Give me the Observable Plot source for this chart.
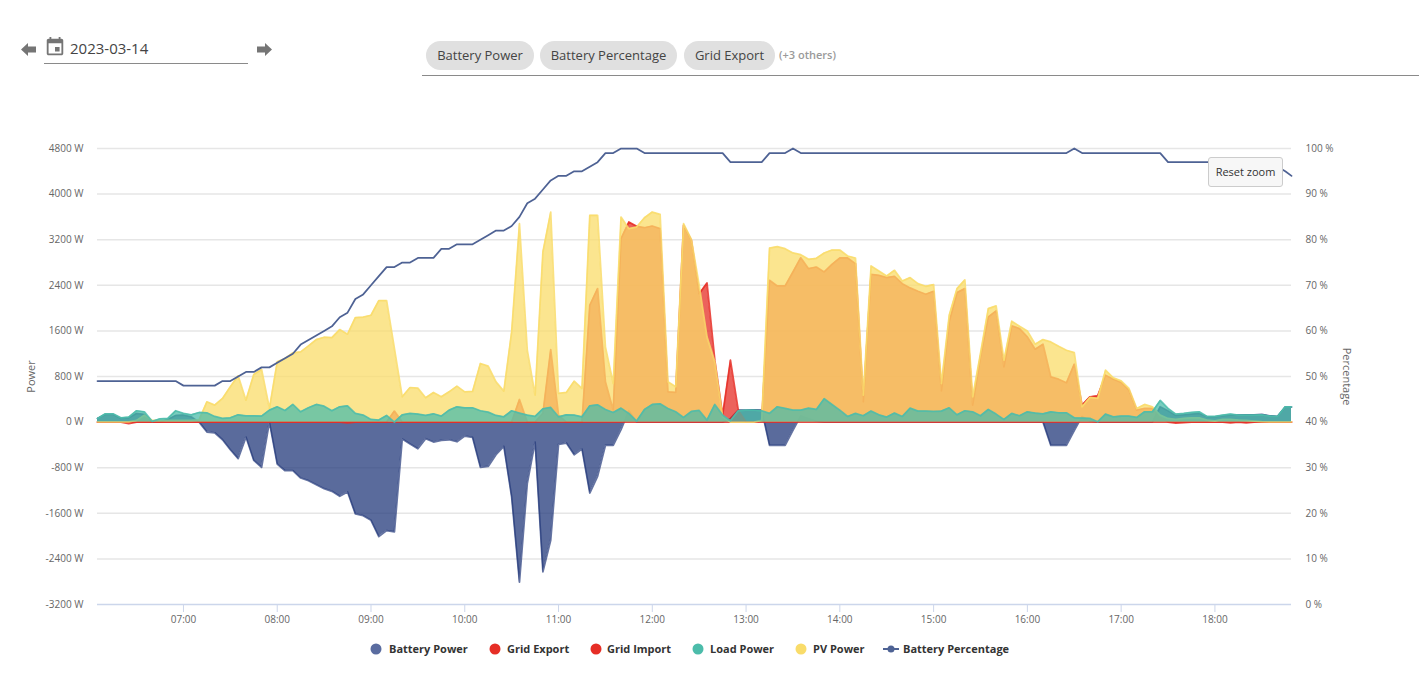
<!DOCTYPE html>
<html>
<head>
<meta charset="utf-8">
<script src="https://cdn.jsdelivr.net/npm/d3@7"></script>
<script src="https://cdn.jsdelivr.net/npm/@observablehq/plot@0.6"></script>
<style>
  html, body { margin: 0; padding: 0; background: #fff; overflow: hidden; font-family: "Open Sans", sans-serif; }
  #chart { position: absolute; left: 0; top: 0; }
  #chart svg { display: block; background: transparent; }
  .abs { position: absolute; }
  .date { left: 70px; top: 37px; font-size: 15px; color: #444; line-height: 22px; }
  .uline { height: 1px; background: #8a8a8a; }
  .chip { top: 41px; height: 29px; line-height: 29px; background: #e0e0e0; border-radius: 15px; font-size: 13px; color: #444; text-align: center; }
  .others { left: 779px; top: 47px; font-size: 11px; font-weight: 600; color: #9a9a9a; line-height: 16px; }
  .reset { left: 1208px; top: 157px; width: 73px; height: 28px; line-height: 28px; text-align: center; background: #f7f7f7; border: 1px solid #cccccc; border-radius: 3px; font-size: 11px; color: #333; }
  #legend { position: absolute; top: 641px; left: 0; height: 16px; }
  .lg { position: absolute; top: 0; font-size: 11px; font-weight: 700; color: #333; line-height: 16px; white-space: nowrap; }
  .sw { position: absolute; top: 2px; }
</style>
</head>
<body>
<div id="chart"></div>

<svg class="abs" style="left:21px;top:43px" width="15" height="13" viewBox="0 0 15 13"><path d="M0 6.5L7 0v3.6h8v5.8H7V13z" fill="#757575"/></svg>
<svg class="abs" style="left:257px;top:43px" width="15" height="13" viewBox="0 0 15 13"><path d="M15 6.5L8 0v3.6H0v5.8h8V13z" fill="#757575"/></svg>
<svg class="abs" style="left:44px;top:35px" width="22" height="24" viewBox="0 0 24 24"><path d="M17 12h-5v5h5v-5zM16 1v2H8V1H6v2H5c-1.1 0-2 .9-2 2v14c0 1.1.9 2 2 2h14c1.1 0 2-.9 2-2V5c0-1.1-.9-2-2-2h-1V1h-2zm3 18H5V8h14v11z" fill="#757575"/></svg>
<div class="abs date">2023-03-14</div>
<div class="abs uline" style="left:44px;top:63px;width:204px"></div>

<div class="abs chip" style="left:426px;width:108px">Battery Power</div>
<div class="abs chip" style="left:540px;width:137px">Battery Percentage</div>
<div class="abs chip" style="left:684px;width:91px">Grid Export</div>
<div class="abs others">(+3 others)</div>
<div class="abs uline" style="left:422px;top:75px;width:997px"></div>

<div id="legend"></div>
<div class="abs reset">Reset zoom</div>

<script>
const batteryPower = [
  64,134,134,64,76,152,134,0,0,47,
  117,123,93,0,-175,-187,-310,-485,-642,-263,
  -672,-794,0,-736,-853,-853,-981,-1028,-1098,-1168,
  -1215,-1302,-1226,-1612,-1641,-1723,-2009,-1904,-1927,-298,
  -385,-467,-292,-350,-321,-310,-345,-245,-269,-794,
  -777,-572,-426,-1314,-2809,-1080,-350,-2628,-2073,-391,
  -368,-572,-473,-1244,-952,-409,-409,-132,200,0,
  0,0,0,0,0,0,0,0,0,0,
  0,64,210,210,215,210,-409,-409,-409,-146,
  110,60,15,0,0,0,0,0,0,0,
  0,0,0,0,0,0,0,0,0,0,
  0,0,0,0,0,0,0,0,0,0,
  0,0,-409,-409,-409,-150,100,20,0,0,
  0,0,0,0,0,0,269,199,117,128,
  140,152,93,93,111,123,123,128,128,134,
  111,99,263,263
];
const gridExport = [
  0,0,0,0,0,0,0,0,0,0,
  0,0,0,0,0,0,0,0,0,0,
  0,0,0,0,0,0,0,0,0,0,
  0,0,0,0,0,0,0,0,193,0,
  0,0,0,0,0,0,0,0,0,0,
  0,0,0,0,397,0,0,152,1273,122,
  0,0,0,2050,2342,707,210,3218,3510,3434,
  3410,3440,3393,531,520,3451,3189,2250,2441,1086,
  122,1086,210,0,0,25,2488,2389,2389,2634,
  2885,2692,2721,2634,2768,2879,2879,2780,356,2593,
  2575,2535,2558,2429,2354,2295,2243,2295,549,1758,
  2272,2342,298,1145,1845,1951,969,1688,1641,1495,
  1279,1367,794,753,689,1016,298,444,461,823,
  753,695,561,210,239,239,82,0,0,0,
  0,0,0,0,0,0,0,0,0,0,
  0,0,0,0
];
const gridImport = [
  0,0,0,0,-25,0,0,0,0,0,
  0,0,0,0,0,0,0,0,0,0,
  0,0,0,0,0,0,0,0,0,0,
  0,0,-15,0,0,0,0,0,0,0,
  0,0,0,0,0,0,0,0,0,0,
  0,0,0,0,0,0,0,0,0,0,
  0,0,0,0,0,0,0,0,0,0,
  0,0,0,0,0,0,0,0,0,0,
  0,0,0,0,0,0,0,0,0,0,
  0,0,0,0,0,0,0,0,0,0,
  0,0,0,0,0,0,0,0,0,0,
  0,0,0,0,0,0,0,0,0,0,
  0,0,0,0,0,0,0,0,0,0,
  0,0,0,0,0,0,0,0,-20,-10,
  0,0,0,0,0,-15,0,-15,0,0,
  0,0,0,0
];
const loadPower = [
  64,146,146,76,88,199,181,12,58,64,
  199,152,128,169,164,99,64,76,128,111,
  111,105,210,269,204,310,181,251,310,280,
  199,269,286,152,123,47,35,117,0,128,
  152,140,117,146,105,210,269,251,251,199,
  175,117,93,199,158,123,99,234,257,93,
  128,123,93,286,304,222,169,245,152,18,
  222,310,321,239,181,82,187,204,35,310,
  123,23,199,210,210,199,152,269,239,210,
  210,245,222,409,310,210,99,152,111,193,
  128,88,158,99,245,193,193,187,193,251,
  128,199,181,111,222,140,47,152,111,181,
  158,146,181,164,164,76,70,65,6,140,
  93,105,105,82,181,181,380,239,140,152,
  169,181,99,99,123,140,123,123,123,128,
  105,99,269,269
];
const pvPower = [
  5,5,5,5,5,30,120,30,30,30,
  30,30,30,40,356,298,415,619,812,385,
  835,923,240,1057,1115,1215,1232,1337,1448,1489,
  1483,1623,1542,1834,1840,1875,2132,2132,1290,444,
  607,596,426,520,444,531,631,531,537,1028,
  981,707,543,1583,3480,1261,473,2984,3685,502,
  520,718,590,3627,3627,1320,677,3597,3393,3422,
  3586,3685,3644,707,619,3480,3206,2400,1495,1057,
  93,0,0,0,0,30,3054,3078,3043,2967,
  2938,2856,2873,2967,3019,3019,2914,2879,473,2739,
  2651,2564,2663,2476,2535,2429,2383,2412,677,1875,
  2342,2494,444,1203,1991,2038,1086,1770,1682,1600,
  1367,1448,1407,1331,1261,1220,269,432,415,911,
  777,724,590,239,310,269,123,64,47,64,
  76,76,35,23,47,47,35,29,18,8,
  5,5,5,5
];
const batteryPercentage = [
  49,49,49,49,49,49,49,49,49,49,
  49,48,48,48,48,48,49,49,50,51,
  51,52,52,53,54,55,57,58,59,60,
  61,63,64,67,68,70,72,74,74,75,
  75,76,76,76,78,78,79,79,79,80,
  81,82,82,83,85,88,89,91,93,94,
  94,95,95,96,97,99,99,100,100,100,
  99,99,99,99,99,99,99,99,99,99,
  99,97,97,97,97,97,99,99,99,100,
  99,99,99,99,99,99,99,99,99,99,
  99,99,99,99,99,99,99,99,99,99,
  99,99,99,99,99,99,99,99,99,99,
  99,99,99,99,99,100,99,99,99,99,
  99,99,99,99,99,99,99,97,97,97,
  97,97,97,97,97,97,97,97,97,97,
  97,96,95,94
];
const powerTicks = [-3200,-2400,-1600,-800,0,800,1600,2400,3200,4000,4800];
const percentTicks = [0,10,20,30,40,50,60,70,80,90,100];
const hourTicks = [7,8,9,10,11,12,13,14,15,16,17,18];
const colors = {battery:"#23397b", exportC:"#e62e26", importC:"#e62e26", load:"#4cbcaa", pv:"#f9dc6a", pct:"#4e6294"};
const legendItems = [
  {name:"Battery Power", color:"#5a6ca0", cx:376, tx:389},
  {name:"Grid Export", color:"#e62e26", cx:495, tx:507},
  {name:"Grid Import", color:"#e62e26", cx:596, tx:607},
  {name:"Load Power", color:"#4cbcaa", cx:698, tx:710},
  {name:"PV Power", color:"#f9dc6a", cx:801, tx:813},
  {name:"Battery Percentage", color:"#4e6294", cx:891, tx:903, line:true}
];

const day = (h, m) => new Date(2023, 2, 14, h, m);
const lastMinute = 48 + 18 * 60 + 1;
const times = batteryPower.map((_, i) => day(0, Math.min(365 + 5 * i, lastMinute)));
const pctToPower = p => -3200 + p * 80;
const rows = values => values.map((v, i) => ({t: times[i], v}));

function areaSeries(values, color, lineOpacity = 0.85) {
  const data = rows(values);
  return [
    Plot.areaY(data, {x: "t", y: "v", fill: color, fillOpacity: 0.75}),
    Plot.lineY(data, {x: "t", y: "v", stroke: color, strokeWidth: 1.75, strokeOpacity: lineOpacity})
  ];
}

const chart = Plot.plot({
  width: 1419,
  height: 686,
  marginTop: 148,
  marginBottom: 82,
  marginLeft: 97,
  marginRight: 128,
  style: {fontFamily: '"Open Sans", sans-serif', fontSize: "10px", color: "#666", background: "transparent"},
  x: {type: "time", domain: [day(6, 5), day(18, 49)]},
  y: {domain: [-3200, 4800]},
  marks: [
    Plot.ruleY(powerTicks.slice(1), {stroke: "#e6e6e6", strokeWidth: 1.5}),
    Plot.ruleY([-3200], {stroke: "#ccd6eb", strokeWidth: 1.5}),
    Plot.axisX(hourTicks.map(h => day(h, 0)), {
      anchor: "bottom", tickSize: 8, tickPadding: 3, stroke: "#ccd6eb", fill: "#666",
      tickFormat: d3.timeFormat("%H:%M"), label: null
    }),
    Plot.axisY(powerTicks, {
      anchor: "left", tickSize: 0, tickPadding: 14, fill: "#666",
      tickFormat: v => `${v} W`, label: null
    }),
    Plot.axisY(percentTicks.map(pctToPower), {
      anchor: "right", tickSize: 0, tickPadding: 14, fill: "#666",
      tickFormat: v => `${(v + 3200) / 80} %`, label: null
    }),
    Plot.text(["Power"], {frameAnchor: "left", textAnchor: "middle", dx: -66, rotate: -90, fill: "#666", fontSize: 11}),
    Plot.text(["Percentage"], {frameAnchor: "right", textAnchor: "middle", dx: 55, rotate: 90, fill: "#666", fontSize: 11}),
    ...areaSeries(batteryPower, colors.battery, 0.7),
    ...areaSeries(gridExport, colors.exportC),
    ...areaSeries(gridImport, colors.importC),
    ...areaSeries(pvPower, colors.pv),
    ...areaSeries(loadPower, colors.load),
    Plot.lineY(rows(batteryPercentage), {x: "t", y: d => pctToPower(d.v), stroke: colors.pct, strokeWidth: 1.75})
  ]
});
document.getElementById("chart").append(chart);

const legend = document.getElementById("legend");
for (const item of legendItems) {
  const sw = item.line
    ? `<svg class="sw" style="left:${item.cx - 8}px" width="16" height="12"><line x1="0" x2="16" y1="6" y2="6" stroke="${item.color}" stroke-width="2"/><circle cx="8" cy="6" r="3.5" fill="${item.color}"/></svg>`
    : `<svg class="sw" style="left:${item.cx - 6}px" width="12" height="12"><circle cx="6" cy="6" r="5.5" fill="${item.color}"/></svg>`;
  legend.insertAdjacentHTML("beforeend", `${sw}<div class="lg" style="left:${item.tx}px">${item.name}</div>`);
}
</script>
</body>
</html>
